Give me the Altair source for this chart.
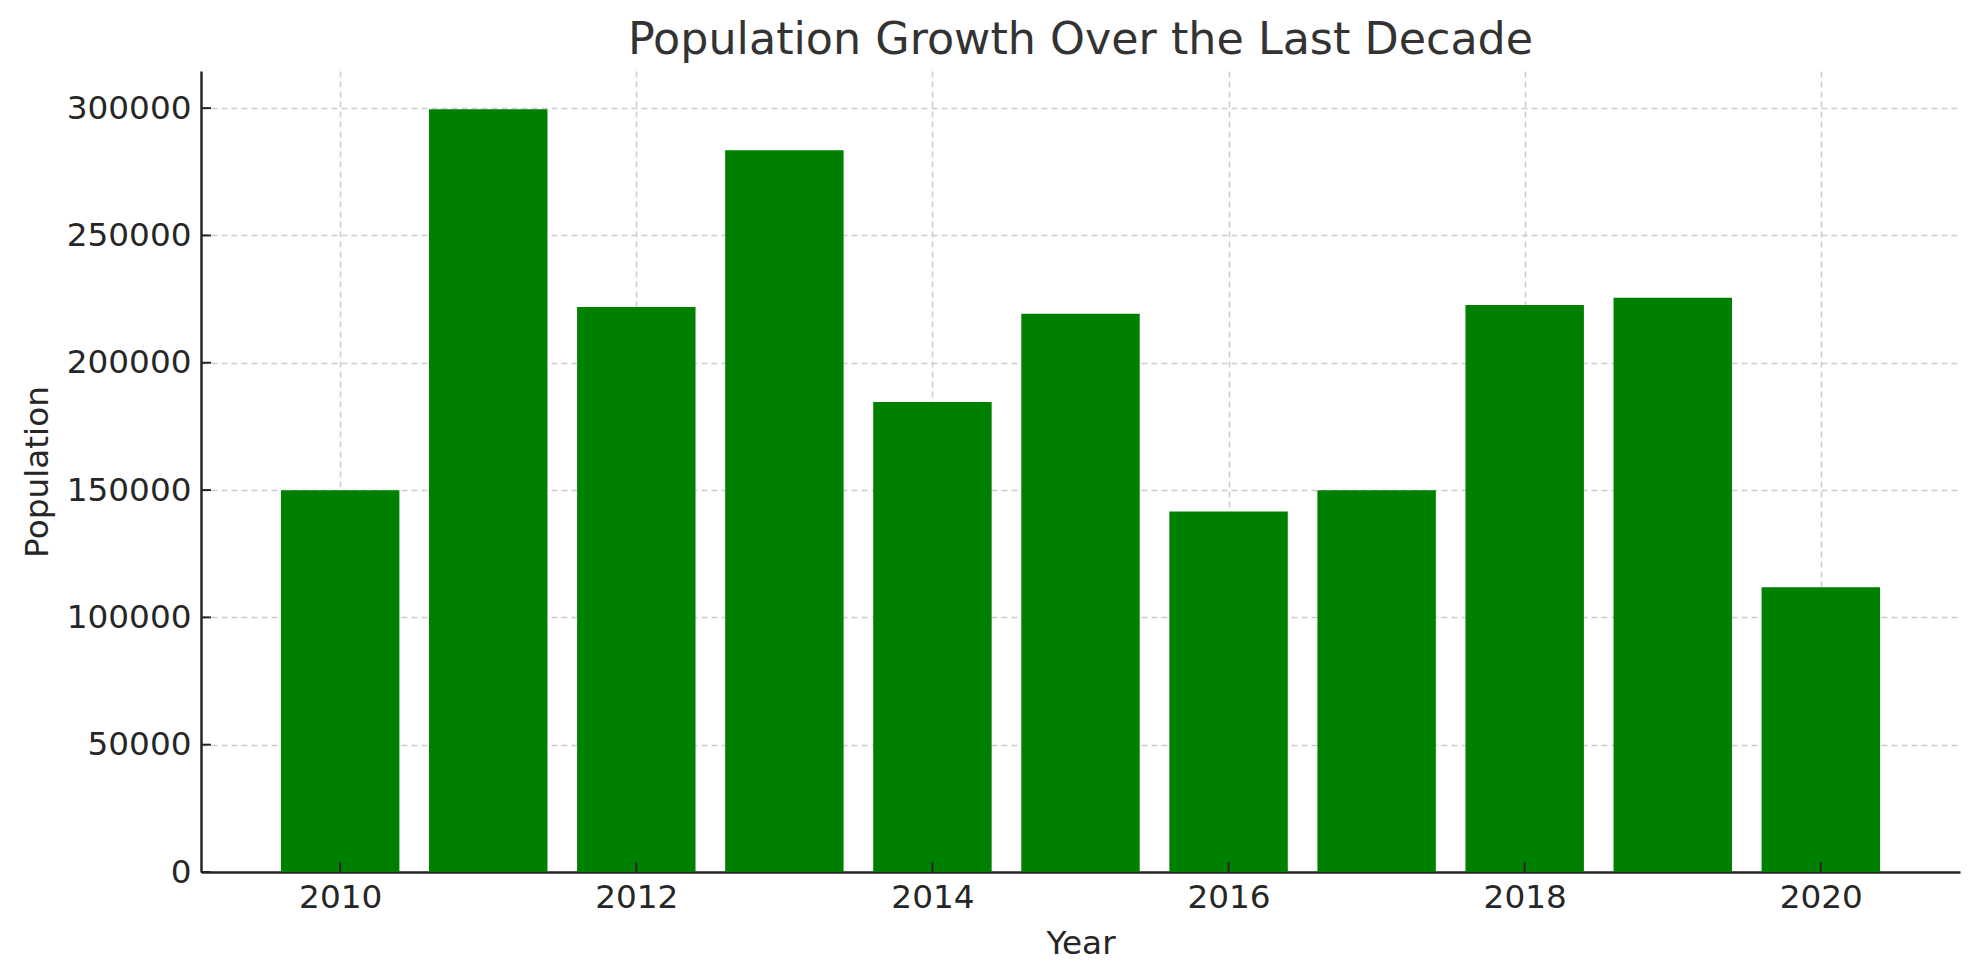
import altair as alt
import pandas as pd

years = [2010, 2011, 2012, 2013, 2014, 2015, 2016, 2017, 2018, 2019, 2020]
population = [149900, 299600, 221900, 283500, 184600, 219200, 141600, 149900, 222700, 225500, 111800]
x_ticks = [2010, 2012, 2014, 2016, 2018, 2020]
y_ticks = [0, 50000, 100000, 150000, 200000, 250000, 300000]

df = pd.DataFrame({"Year": years, "Population": population})
xt = pd.DataFrame({"t": x_ticks})
yt = pd.DataFrame({"t": y_ticks})

W, H = 1759, 801
FONT = "DejaVu Sans"

xscale = alt.Scale(domain=[2009.06, 2020.94], nice=False, zero=False)
yscale = alt.Scale(domain=[0, 314580], nice=False)

bars = alt.Chart(df).transform_calculate(
    x0="datum.Year - 0.4", x1="datum.Year + 0.4"
).mark_bar(color="#008000").encode(
    x=alt.X("x0:Q", scale=xscale, title="Year",
            axis=alt.Axis(values=x_ticks, format="d", grid=True, ticks=False,
                          labelPadding=9, titlePadding=14)),
    x2="x1:Q",
    y=alt.Y("Population:Q", scale=yscale, title="Population",
            axis=alt.Axis(values=y_ticks, format="d", grid=True, ticks=False,
                          labelPadding=10, titlePadding=12)),
    y2=alt.datum(0),
)

xticks = alt.Chart(xt).mark_rule(color="#262626", strokeWidth=2).encode(
    x=alt.X("t:Q", scale=xscale), y=alt.value(H), y2=alt.value(H - 10)
)
yticks = alt.Chart(yt).mark_rule(color="#262626", strokeWidth=2).encode(
    y=alt.Y("t:Q", scale=yscale), x=alt.value(0), x2=alt.value(10)
)

chart = alt.layer(bars, xticks, yticks).properties(
    width=W, height=H,
    title=alt.TitleParams("Population Growth Over the Last Decade", font=FONT,
                          fontSize=44.4, fontWeight="normal", color="#333333",
                          anchor="middle", baseline="alphabetic", offset=14, dy=41),
    autosize=alt.AutoSizeParams(type="none"),
    padding={"left": 193, "top": 63, "right": 10, "bottom": 90},
).configure_view(stroke=None).configure_axis(
    labelFont=FONT, titleFont=FONT, labelFontSize=32.7, titleFontSize=32.7,
    labelColor="#262626", titleColor="#262626", titleFontWeight="normal",
    domainColor="#262626", domainWidth=2.5,
    gridColor="#cccccc", gridDash=[6, 4], gridWidth=1.5, zindex=1,
)

chart.save("out.html", embed_options={"renderer": "svg", "actions": False})
